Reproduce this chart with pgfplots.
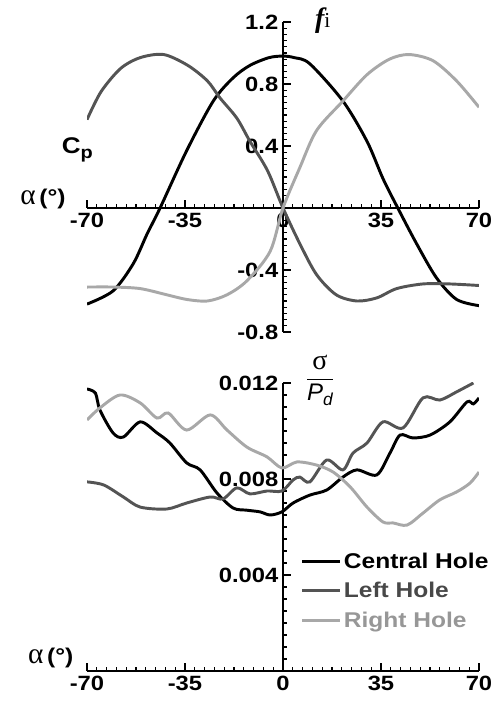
\documentclass[border=0pt]{standalone}
\usepackage{pgfplots}
\pgfplotsset{compat=1.18}
\usepackage{fontspec}
\setmainfont{Liberation Sans}
\newfontfamily\wide[FakeStretch=1.15]{Liberation Sans}
\newfontfamily\serif{Liberation Serif}
\definecolor{cent}{gray}{0}
\definecolor{lefth}{gray}{0.33}
\definecolor{righth}{gray}{0.66}
\begin{document}
\begin{tikzpicture}
\useasboundingbox (0,0) rectangle (374.25pt,526.5pt);
\pgfplotsset{
  myax/.style={
    scale only axis, width=294pt,
    axis lines=middle, axis line style={-, line width=1.1pt},
    xtick align=inside, ytick align=inside,
    major tick length=6pt, minor tick length=3pt,
    every tick/.append style={line width=0.8pt, black},
    xmin=-70, xmax=70, xtick={-70,-35,0,35,70},
    xticklabels={-70,-35,0,35,70},
    minor x tick num=9,
    hide obscured x ticks=false, hide obscured y ticks=false,
    scaled y ticks=false,
    ticklabel style={font=\wide\fontsize{15.5}{17}\selectfont\bfseries},
  }
}
% ---------- top panel ----------
\begin{axis}[myax, at={(65.25pt,277.5pt)}, anchor=south west,
  height=232.5pt, ymin=-0.8, ymax=1.2,
  ytick={-0.8,-0.4,0,0.4,0.8,1.2},
  yticklabels={-0.8,-0.4,,0.4,0.8,1.2},
  minor y tick num=9,
]
\addplot[cent, line width=2.2pt, smooth] coordinates {(-70,-0.62) (-60.7,-0.535) (-53.5,-0.36) (-48.6,-0.17) (-43.9,0) (-34.4,0.37) (-24.9,0.69) (-17.8,0.84) (-11.8,0.92) (-5,0.97) (0,0.98) (4,0.97) (9.6,0.93) (21.4,0.69) (30,0.43) (35.7,0.19) (41,0) (47.7,-0.23) (54.8,-0.45) (62,-0.59) (70,-0.63)};
\addplot[lefth, line width=2.2pt, smooth] coordinates {(-70,0.57) (-65,0.75) (-58,0.90) (-51,0.97) (-42.6,0.99) (-34,0.92) (-27,0.82) (-22.5,0.71) (-16.5,0.58) (-11.8,0.43) (-5.5,0.24) (0,0) (6,-0.23) (12,-0.43) (19,-0.56) (26.4,-0.60) (33.5,-0.58) (40.6,-0.52) (50,-0.49) (59.5,-0.49) (70,-0.50)};
\addplot[righth, line width=2.2pt, smooth] coordinates {(-70,-0.51) (-60.7,-0.51) (-51,-0.52) (-41.5,-0.56) (-34.4,-0.59) (-27,-0.60) (-20,-0.56) (-12.9,-0.47) (-4.6,-0.28) (0,0) (6,0.26) (12,0.50) (21.4,0.69) (30,0.86) (38,0.96) (45,0.99) (53.6,0.95) (62,0.82) (70,0.65)};
\end{axis}
% ---------- bottom panel ----------
\begin{axis}[myax, at={(65.25pt,23.25pt)}, anchor=south west,
  height=216pt, ymin=0, ymax=0.012,
  ytick={0,0.004,0.008,0.012},
  yticklabels={,0.004,0.008,0.012},
  minor y tick num=7,
  legend style={at={(0.535,0.43)}, anchor=north west, draw=none, fill=none,
    font=\wide\fontsize{16}{19}\selectfont\bfseries, row sep=5pt,
    legend cell align=left},
  legend image code/.code={\draw[#1, line width=2.2pt, sharp plot] (0pt,0pt) -- (28pt,0pt);},
]
\addplot[cent, line width=2.2pt, smooth] coordinates {(-70,0.01175) (-67,0.01158) (-65.4,0.01088) (-60.7,0.00992) (-57,0.00975) (-51,0.01038) (-45,0.00992) (-40.4,0.0095) (-34.4,0.00867) (-29.6,0.00838) (-23.6,0.00742) (-17.8,0.00679) (-12.9,0.0067) (-8.2,0.00663) (-4.6,0.0065) (-0.4,0.00663) (3.6,0.007) (9.6,0.00733) (15.6,0.00754) (21.4,0.00808) (26.4,0.00838) (33.5,0.00817) (38.2,0.00908) (41.8,0.00983) (46.4,0.00971) (52.5,0.00983) (59.6,0.01038) (65.7,0.01121) (68,0.01113) (70,0.01138)};
\addlegendentry{Central Hole}
\addplot[lefth, line width=2.2pt, smooth] coordinates {(-70,0.00788) (-64,0.00775) (-57,0.00725) (-51,0.00683) (-41.5,0.00675) (-34.4,0.007) (-26,0.00725) (-21.4,0.00717) (-16.5,0.00763) (-11.8,0.00738) (-5.7,0.0075) (-0.4,0.0075) (3.6,0.00796) (6,0.00808) (9.6,0.00788) (15.6,0.00879) (21.4,0.00838) (25,0.00908) (30,0.0095) (35.7,0.01038) (42.9,0.01013) (50,0.01138) (56,0.01129) (62,0.01163) (68,0.012)};
\addlegendentry{\textcolor{lefth!85!black}{Left Hole}}
\addplot[righth, line width=2.2pt, smooth] coordinates {(-70,0.01046) (-65.4,0.01096) (-58.2,0.0115) (-51,0.01117) (-45,0.01054) (-41,0.01075) (-34.4,0.01004) (-26,0.01067) (-20,0.01004) (-12.9,0.00933) (-5.7,0.00892) (-0.4,0.00846) (5,0.00871) (12,0.00858) (17.9,0.00829) (24,0.00767) (30,0.00683) (35.7,0.00621) (39.3,0.00617) (44.3,0.00608) (50,0.00658) (56,0.00713) (62,0.00746) (66.8,0.00783) (70,0.00829)};
\addlegendentry{\textcolor{righth!90!black}{Right Hole}}
\end{axis}
% ---------- labels ----------
\node at (242pt,511pt) {\serif\fontsize{21}{23}\selectfont\bfseries\itshape f\fontsize{16}{18}\selectfont\mdseries\upshape i};
\node at (58pt,414pt) {\wide\fontsize{17}{19}\selectfont\bfseries C\raisebox{-0.4ex}{\fontsize{13}{15}\selectfont p}};
\node at (32.25pt,377pt) {{\serif\fontsize{22}{24}\selectfont α} {\wide\fontsize{16}{18}\selectfont\bfseries(°)}};
\node at (38pt,33pt) {{\serif\fontsize{22}{24}\selectfont α} {\wide\fontsize{16}{18}\selectfont\bfseries(°)}};
\node[inner sep=1pt] at (240pt,241pt) {\fontsize{18}{20}\selectfont$\displaystyle\frac{\mbox{\serif\fontsize{21}{22}\selectfont σ}}{\mbox{\itshape P\raisebox{-0.4ex}{\fontsize{13}{14}\selectfont d}}}$};
\end{tikzpicture}
\end{document}
